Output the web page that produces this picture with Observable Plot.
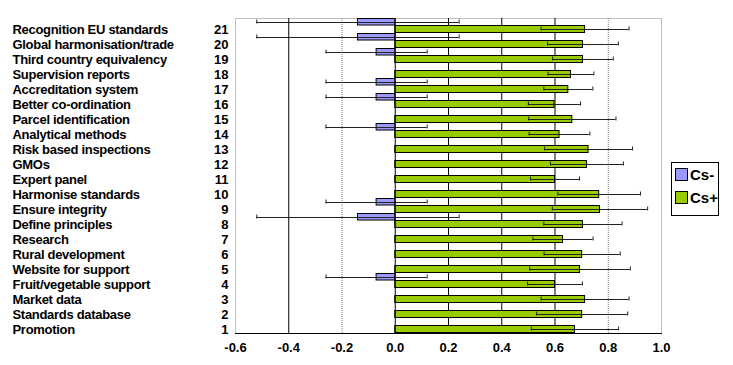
<!DOCTYPE html>
<html>
<head>
<meta charset="utf-8">
<script src="https://cdn.jsdelivr.net/npm/d3@7"></script>
<script src="https://cdn.jsdelivr.net/npm/@observablehq/plot@0.6"></script>
<style>
  body { margin: 0; background: #fff; }
  #wrap { position: relative; width: 733px; height: 365px; font-family: "Liberation Sans", Arial, sans-serif; }
  #wrap svg text.nm { letter-spacing: -0.3px; }
  #legend { position: absolute; left: 671px; top: 162px; width: 48px; height: 54px; border: 1px solid #000; background: #fff; box-sizing: border-box; }
  .item { position: absolute; left: 3px; display: flex; align-items: center; font-weight: bold; font-size: 15px; }
  .sw { width: 11px; height: 11px; border: 1px solid #000; margin-right: 2px; }
</style>
</head>
<body>
<div id="wrap"></div>
<script>
const categories = [1,2,3,4,5,6,7,8,9,10,11,12,13,14,15,16,17,18,19,20,21];
const names = ["Promotion","Standards database","Market data","Fruit/vegetable support","Website for support","Rural development","Research","Define principles","Ensure integrity","Harmonise standards","Expert panel","GMOs","Risk based inspections","Analytical methods","Parcel identification","Better co-ordination","Accreditation system","Supervision reports","Third country equivalency","Global harmonisation/trade","Recognition EU standards"];
const csMinus = [0,0,0,-0.07,0,0,0,-0.14,-0.07,0,0,0,0,-0.07,0,-0.07,-0.07,0,-0.07,-0.14,-0.14];
const csMinusErr = [0,0,0,0.19,0,0,0,0.38,0.19,0,0,0,0,0.19,0,0.19,0.19,0,0.19,0.38,0.38];
const csPlus = [0.675,0.702,0.713,0.600,0.694,0.702,0.630,0.705,0.769,0.766,0.600,0.720,0.726,0.617,0.665,0.598,0.650,0.660,0.705,0.705,0.713];
const csPlusErr = [0.164,0.171,0.165,0.103,0.189,0.143,0.113,0.147,0.179,0.155,0.092,0.137,0.165,0.114,0.164,0.098,0.092,0.086,0.114,0.133,0.165];
const seriesNames = ["Cs-","Cs+"];
const seriesColors = ["#9999FF","#99CC00"];
const xTicks = [-0.6,-0.4,-0.2,0.0,0.2,0.4,0.6,0.8,1.0];
const gridDark = [-0.4,0.2,0.4,0.6];
const gridLight = [-0.2,0.8];

const minus = categories.map((c,i)=>({cat:c, v:csMinus[i], lo:csMinus[i]-csMinusErr[i], hi:csMinus[i]+csMinusErr[i]})).filter(d=>d.v!==0);
const plus = categories.map((c,i)=>({cat:c, v:csPlus[i], lo:csPlus[i]-csPlusErr[i], hi:csPlus[i]+csPlusErr[i], name:names[i]}));
const errCol = "#222";

const chart = Plot.plot({
  width: 733, height: 365,
  marginLeft: 235, marginRight: 72, marginTop: 18, marginBottom: 32,
  style: {fontFamily: '"Liberation Sans", Arial, sans-serif', fontSize: "13px", fontWeight: "bold", background: "#fff"},
  x: {domain: [-0.6, 1.0]},
  y: {domain: categories.slice().reverse(), padding: 0},
  marks: [
    Plot.frame({stroke: "#808080", strokeDasharray: "1,1"}),
    Plot.ruleX(gridLight, {stroke: "#808080", strokeDasharray: "1,1"}),
    Plot.ruleX(gridDark, {stroke: "#000"}),
    Plot.barX(minus, {x: "v", y: "cat", fill: seriesColors[0], stroke: "#000", insetTop: 0.5, insetBottom: 8}),
    Plot.barX(plus, {x: "v", y: "cat", fill: seriesColors[1], stroke: "#000", insetTop: 7.5, insetBottom: 0.5}),
    Plot.ruleY(minus, {x1: "lo", x2: "hi", y: "cat", dy: -3.5, stroke: errCol}),
    Plot.tickX(minus, {x: "lo", y: "cat", insetTop: 1.5, insetBottom: 9.5, stroke: errCol}),
    Plot.tickX(minus, {x: "hi", y: "cat", insetTop: 1.5, insetBottom: 9.5, stroke: errCol}),
    Plot.ruleY(plus, {x1: "lo", x2: "hi", y: "cat", dy: 3.5, stroke: errCol}),
    Plot.tickX(plus, {x: "lo", y: "cat", insetTop: 8.5, insetBottom: 2.5, stroke: errCol}),
    Plot.tickX(plus, {x: "hi", y: "cat", insetTop: 8.5, insetBottom: 2.5, stroke: errCol}),
    Plot.ruleX([0], {stroke: "#000"}),
    Plot.frame({anchor: "bottom", stroke: "#000"}),
    Plot.axisY({anchor: "left", tickSize: 0, tickPadding: 7, dy: 4, label: null, fontSize: 13, fontWeight: "bold", fill: "#000"}),
    Plot.text(plus, {y: "cat", text: "name", frameAnchor: "left", dx: -223, dy: 4, textAnchor: "start", fontSize: 13, fontWeight: "bold", fill: "#000", className: "nm"}),
    Plot.axisX({ticks: xTicks, tickFormat: d => d.toFixed(1), tickSize: 0, tickPadding: 9, label: null, fontSize: 13, fontWeight: "bold", fill: "#000"})
  ]
});
const wrap = document.getElementById("wrap");
wrap.appendChild(chart);
chart.querySelectorAll("g[aria-label='text'] text").forEach(t => t.style.letterSpacing = "-0.3px");
const leg = document.createElement("div");
leg.id = "legend";
seriesNames.forEach((n,i)=>{
  const it = document.createElement("div");
  it.className = "item";
  it.style.top = (i===0 ? 3 : 26) + "px";
  const sw = document.createElement("div");
  sw.className = "sw";
  sw.style.background = seriesColors[i];
  it.appendChild(sw);
  it.appendChild(document.createTextNode(n));
  leg.appendChild(it);
});
wrap.appendChild(leg);
</script>
</body>
</html>
